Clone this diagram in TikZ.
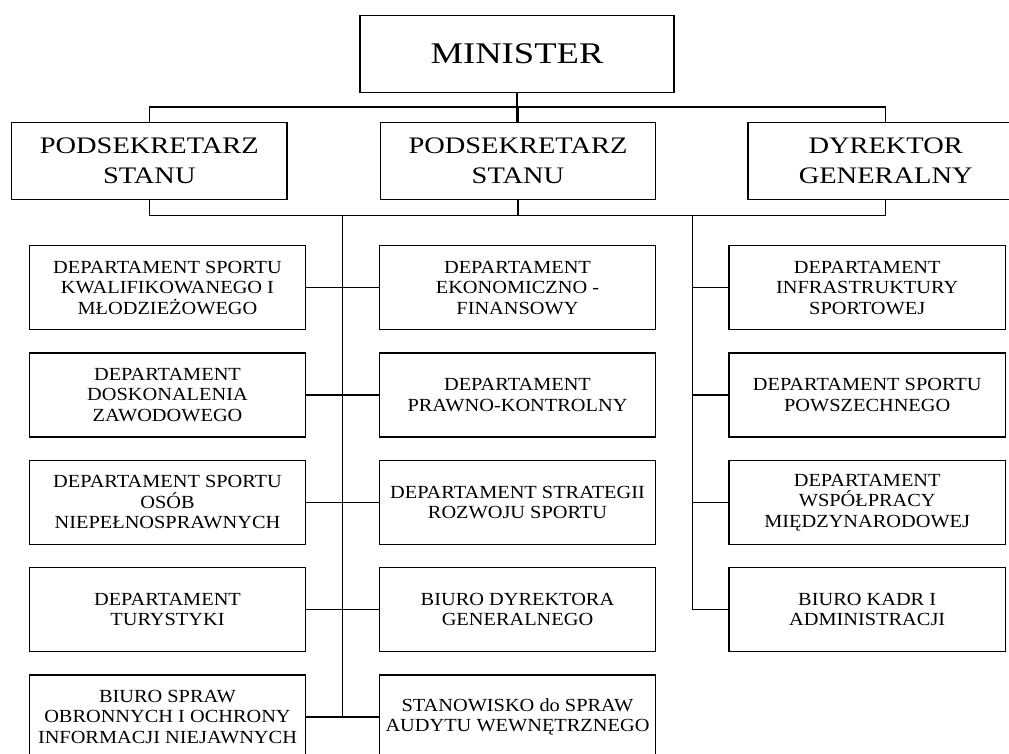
\documentclass[tikz,border=0pt]{standalone}
\usepackage{fontspec}
\setmainfont{Liberation Serif}
\newfontfamily\bigfont{Liberation Serif}[FakeStretch=1.22]
\newfontfamily\midfont{Liberation Serif}[FakeStretch=1.2]
\newfontfamily\smallfont{Liberation Serif}[FakeStretch=1.1]
\usepackage{tikz}

\begin{document}
\begin{tikzpicture}[x=1pt, y=1pt, line width=1.3pt,
	chief/.style={draw, inner sep=0pt, align=center, minimum width=314pt, minimum height=76.6pt,
	              font={\bigfont\fontsize{30}{34}\selectfont}},
	deputy/.style={draw, inner sep=0pt, align=center, minimum width=275.5pt, minimum height=77pt,
	              font={\midfont\fontsize{23.7}{30}\selectfont}},
	dept/.style={draw, inner sep=0pt, align=center, minimum width=276.4pt, minimum height=84pt,
	              font={\smallfont\fontsize{18.5}{20.5}\selectfont}}]

	\path[use as bounding box] (0,0) rectangle (1009,-753);
	\clip (0,0) rectangle (1009,-753);

	\node[chief]  (min) at (517,-54)    {MINISTER};
	\node[deputy] (ps1) at (149.3,-161) {PODSEKRETARZ\\STANU};
	\node[deputy] (ps2) at (518,-161)   {PODSEKRETARZ\\STANU};
	\node[deputy] (dg)  at (885.7,-161) {DYREKTOR\\GENERALNY};

	\draw (min.south) -- (min.south |- ps2.north);
	\draw (ps1.north) -- ++(up:14.8) -| (dg.north);
	\draw (ps2.north) -- ++(up:14.8);
	\draw (ps1.south) -- ++(down:15.5) -| (dg.south);
	\draw (ps2.south) -- ++(down:15.5);

	\node[dept] (a1) at (167.5,-287.7) {DEPARTAMENT SPORTU\\KWALIFIKOWANEGO I\\MŁODZIEŻOWEGO};
	\node[dept] (a2) at (167.5,-395)   {DEPARTAMENT\\DOSKONALENIA\\ZAWODOWEGO};
	\node[dept] (a3) at (167.5,-502.3) {DEPARTAMENT SPORTU\\OSÓB\\NIEPEŁNOSPRAWNYCH};
	\node[dept] (a4) at (167.5,-609.6) {DEPARTAMENT\\TURYSTYKI};
	\node[dept] (a5) at (167.5,-716.9) {BIURO SPRAW\\OBRONNYCH I OCHRONY\\INFORMACJI NIEJAWNYCH};

	\node[dept] (b1) at (517.5,-287.7) {DEPARTAMENT\\EKONOMICZNO -\\FINANSOWY};
	\node[dept] (b2) at (517.5,-395)   {DEPARTAMENT\\PRAWNO-KONTROLNY};
	\node[dept] (b3) at (517.5,-502.3) {DEPARTAMENT STRATEGII\\ROZWOJU SPORTU};
	\node[dept] (b4) at (517.5,-609.6) {BIURO DYREKTORA\\GENERALNEGO};
	\node[dept] (b5) at (517.5,-716.9) {STANOWISKO do SPRAW\\AUDYTU WEWNĘTRZNEGO};

	\node[dept] (c1) at (867.2,-287.7) {DEPARTAMENT\\INFRASTRUKTURY\\SPORTOWEJ};
	\node[dept] (c2) at (867.2,-395)   {DEPARTAMENT SPORTU\\POWSZECHNEGO};
	\node[dept] (c3) at (867.2,-502.3) {DEPARTAMENT\\WSPÓŁPRACY\\MIĘDZYNARODOWEJ};
	\node[dept] (c4) at (867.2,-609.6) {BIURO KADR I\\ADMINISTRACJI};

	\coordinate (t1) at (342.5,-215);
	\coordinate (t2) at (692.4,-215);

	\draw (t1) -- (t1 |- a5.east);
	\draw (a1.east) -- (b1.west);
	\draw (a2.east) -- (b2.west);
	\draw (a3.east) -- (b3.west);
	\draw (a4.east) -- (b4.west);
	\draw (a5.east) -- (b5.west);

	\draw (t2) |- (c4.west);
	\draw (t2 |- c1.west) -- (c1.west);
	\draw (t2 |- c2.west) -- (c2.west);
	\draw (t2 |- c3.west) -- (c3.west);
\end{tikzpicture}
\end{document}
